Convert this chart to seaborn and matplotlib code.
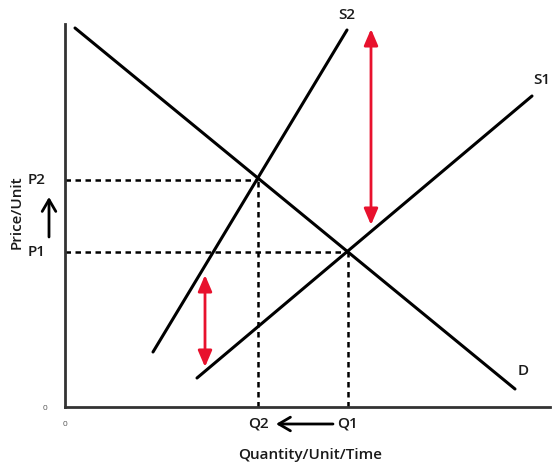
import numpy as np
import pandas as pd
import matplotlib
matplotlib.use("Agg")
import matplotlib.pyplot as plt
import seaborn as sns

# ── Data (arbitrary units) ─────────────────────────────────
curve_names = ["D", "S1", "S2"]
d_x = [1.0, 45.0]
d_y = [37.9, 1.8]
s1_x = [13.2, 46.7]
s1_y = [2.9, 31.1]
s2_x = [8.8, 28.2]
s2_y = [5.5, 37.7]

q_labels = ["Q2", "Q1"]
q_values = [19.3, 28.3]
p_labels = ["P2", "P1"]
p_values = [22.7, 15.5]

# vertical shift arrows (x, y_low, y_high)
shift_x = [14.0, 30.6]
shift_low = [4.0, 18.2]
shift_high = [13.2, 37.8]

label_pos = {"D": (45.8, 3.6), "S1": (47.7, 32.7), "S2": (28.2, 39.2)}

df = pd.DataFrame({
    "x": d_x + s1_x + s2_x,
    "y": d_y + s1_y + s2_y,
    "curve": ["D"] * 2 + ["S1"] * 2 + ["S2"] * 2,
})

sns.set_style("white")
plt.rcParams["font.family"] = ["Open Sans", "DejaVu Sans"]

fig = plt.figure(figsize=(5.55, 4.71), dpi=100)
ax = fig.add_axes([65 / 555, 64 / 471, 485 / 555, 383 / 471])

sns.lineplot(data=df, x="x", y="y", units="curve", estimator=None,
             color="black", lw=2.2, ax=ax, legend=False)

txt = dict(fontsize=11, color="#1a1a1a", ha="center", va="center", weight="semibold")

for name in curve_names:
    lx, ly = label_pos[name]
    ax.text(lx, ly, name, **txt)

# dashed guides
for q, p in zip(q_values, p_values):
    ax.plot([0, q], [p, p], color="black", lw=1.8, ls=(0, (2.2, 1.8)))
    ax.plot([q, q], [0, p], color="black", lw=1.8, ls=(0, (2.2, 1.8)))

# red shift arrows
for sx, lo, hi in zip(shift_x, shift_low, shift_high):
    ax.annotate("", xy=(sx, hi), xytext=(sx, lo),
                arrowprops=dict(arrowstyle="<|-|>,head_width=0.3,head_length=0.7",
                                color="#e8112d", lw=2,
                                mutation_scale=14, shrinkA=0, shrinkB=0))

ax.set_xlim(0, 48.5)
ax.set_ylim(0, 38.3)
ax.set_xticks([])
ax.set_yticks([])
ax.set_xlabel("")
ax.set_ylabel("")
for s in ["top", "right"]:
    ax.spines[s].set_visible(False)
for s in ["left", "bottom"]:
    ax.spines[s].set_color("#333333")
    ax.spines[s].set_linewidth(2)

# axis texts
ax.text(0, -1.8, "0", fontsize=6, color="#555555", ha="center", va="center")
ax.text(-2.0, -0.2, "0", fontsize=6, color="#555555", ha="center", va="center")
for lab, q in zip(q_labels, q_values):
    ax.text(q, -1.7, lab, **txt)
for lab, p in zip(p_labels, p_values):
    ax.text(-2.8, p, lab, **txt)

ax.annotate("", xy=(21.1, -1.7), xytext=(26.8, -1.7), annotation_clip=False,
            arrowprops=dict(arrowstyle="->,head_width=0.35,head_length=0.6",
                            color="black", lw=2,
                            mutation_scale=14, shrinkA=0, shrinkB=0))
ax.annotate("", xy=(-1.6, 21.0), xytext=(-1.6, 17.0), annotation_clip=False,
            arrowprops=dict(arrowstyle="->,head_width=0.35,head_length=0.6",
                            color="black", lw=2,
                            mutation_scale=14, shrinkA=0, shrinkB=0))

ax.text(24.5, -4.8, "Quantity/Unit/Time", **txt)
ax.text(-4.8, 19.5, "Price/Unit", rotation=90, **txt)

fig.savefig("out.png", dpi=100)
